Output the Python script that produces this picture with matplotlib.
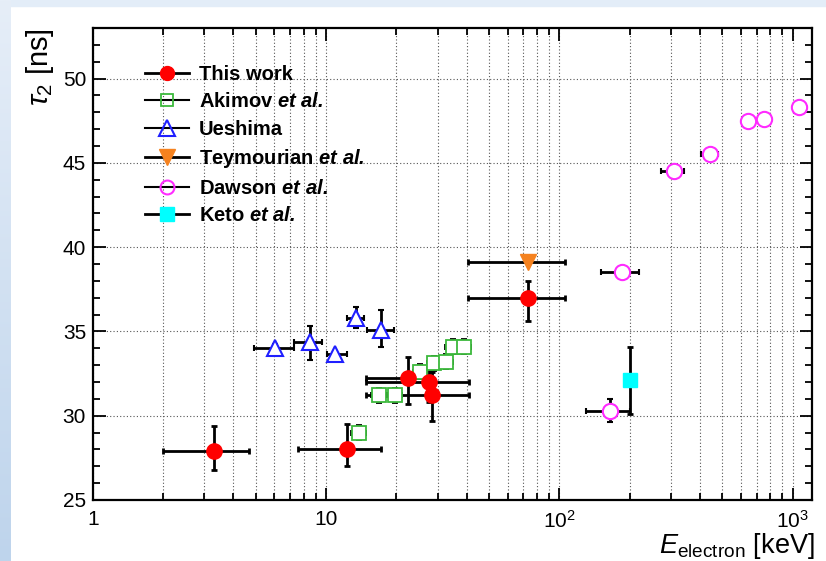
import matplotlib
matplotlib.use("Agg")
import matplotlib.pyplot as plt
import numpy as np
from matplotlib.lines import Line2D
from matplotlib.patches import Rectangle
from matplotlib.colors import LinearSegmentedColormap
from matplotlib.ticker import FixedLocator, FixedFormatter, LogLocator, MultipleLocator, NullFormatter

plt.rcParams['font.family'] = 'Liberation Sans'
plt.rcParams['mathtext.fontset'] = 'custom'
plt.rcParams['mathtext.rm'] = 'Liberation Sans'
plt.rcParams['mathtext.it'] = 'Liberation Sans:italic'
plt.rcParams['mathtext.bf'] = 'Liberation Sans:bold:italic'

# This work
this_x = [3.3, 12.3, 22.4, 27.5, 28.3, 73]
this_y = [27.9, 28.0, 32.25, 32.0, 31.2, 37.0]
this_xlo = [2.0, 7.6, 14.8, 14.8, 14.8, 40.4]
this_xhi = [4.65, 17.1, 27.0, 41.0, 41.0, 106]
this_ylo = [26.8, 27.0, 30.7, 30.8, 29.7, 35.6]
this_yhi = [29.4, 29.5, 33.5, 33.2, 32.6, 38.0]

# Akimov et al.
ak_x = [13.8, 16.8, 19.7, 25.3, 29.0, 32.6, 34.8, 39.0]
ak_y = [29.0, 31.2, 31.2, 32.6, 33.1, 33.2, 34.1, 34.1]
ak_xerr = [1.0, 1.2, 1.4, 1.8, 2.0, 2.3, 2.4, 2.7]
ak_yerr = [0.45, 0.45, 0.45, 0.45, 0.45, 0.45, 0.45, 0.45]

# Ueshima
ue_x = [6.05, 8.5, 10.9, 13.4, 17.1]
ue_y = [34.0, 34.35, 33.65, 35.8, 35.1]
ue_xlo = [4.9, 7.3, 10.1, 12.3, 15.0]
ue_xhi = [7.3, 9.6, 12.3, 14.5, 19.5]
ue_ylo = [33.7, 33.3, 33.45, 35.2, 34.1]
ue_yhi = [34.25, 35.35, 33.85, 36.45, 36.25]

# Teymourian et al.
te_x = [73]
te_y = [39.1]
te_xlo = [40.4]
te_xhi = [106]

# Dawson et al.
da_x = [165, 185, 310, 441, 645, 752, 1067]
da_y = [30.3, 38.5, 44.5, 45.5, 47.5, 47.6, 48.3]
da_xlo = [130, 151, 273, 406, 645, 752, 1067]
da_xhi = [200, 220, 343, 479, 645, 752, 1067]
da_yerr = [0.7, 0.0, 0.0, 0.0, 0.0, 0.0, 0.3]

# Keto et al.
ke_x = [200]
ke_y = [32.1]
ke_yerr = [2.0]

xtick_vals = [1, 10, 100, 1000]
xtick_labels = ['1', '10', '$10^{2}$', '$10^{3}$']

labels = ['This work', r'Akimov $\mathbf{et\ al.}$', 'Ueshima',
          r'Teymourian $\mathbf{et\ al.}$', r'Dawson $\mathbf{et\ al.}$', r'Keto $\mathbf{et\ al.}$']

green = '#3cb93c'
blue = '#1f1fff'
orange = '#f5821f'
magenta = '#ff2bff'
cyan = '#00ffff'

fig = plt.figure(figsize=(8.26, 5.61), dpi=100)

# light blue slide border
bg = fig.add_axes([0, 0, 11 / 826, 1])
grad = np.linspace(0, 1, 256).reshape(-1, 1)
bg.imshow(grad, aspect='auto', cmap=LinearSegmentedColormap.from_list('b', ['#e6eef8', '#bed4ec']))
bg.axis('off')
fig.add_artist(Rectangle((0, 1 - 6 / 561), 1, 6 / 561, transform=fig.transFigure,
                         color='#e3edf8', zorder=0))

ax = fig.add_axes([93 / 826, 61 / 561, 719 / 826, 472 / 561])

x = np.array(this_x)
y = np.array(this_y)
ax.errorbar(x, y, xerr=[x - np.array(this_xlo), np.array(this_xhi) - x],
            yerr=[y - np.array(this_ylo), np.array(this_yhi) - y],
            fmt='none', ecolor='black', elinewidth=2, capsize=2.5, capthick=2, zorder=3)

ax.errorbar(ak_x, ak_y, xerr=ak_xerr, yerr=ak_yerr, fmt='s', ms=10, mfc='white', mec=green, mew=1.3,
            ecolor='black', elinewidth=1.5, capsize=2, capthick=1.5, zorder=4)

x = np.array(ue_x)
y = np.array(ue_y)
ax.errorbar(x, y, xerr=[x - np.array(ue_xlo), np.array(ue_xhi) - x],
            yerr=[y - np.array(ue_ylo), np.array(ue_yhi) - y],
            fmt='^', ms=11, mfc='white', mec=blue, mew=1.5,
            ecolor='black', elinewidth=2, capsize=2.5, capthick=2, zorder=4)

x = np.array(te_x)
ax.errorbar(x, te_y, xerr=[x - np.array(te_xlo), np.array(te_xhi) - x],
            fmt='v', ms=11, color=orange, ecolor='black', elinewidth=2, capsize=2.5, capthick=2, zorder=4)

x = np.array(da_x)
ax.errorbar(x, da_y, xerr=[x - np.array(da_xlo), np.array(da_xhi) - x], yerr=da_yerr,
            fmt='o', ms=11, mfc='white', mec=magenta, mew=1.5,
            ecolor='black', elinewidth=2, capsize=2.5, capthick=2, zorder=4)

ax.errorbar(ke_x, ke_y, yerr=ke_yerr, fmt='s', ms=10, color=cyan,
            ecolor='black', elinewidth=2, capsize=2.5, capthick=2, zorder=4)

ax.plot(this_x, this_y, 'o', color='red', ms=11, zorder=6)

ax.set_xscale('log')
ax.set_xlim(1, 1210)
ax.set_ylim(25, 53)
ax.xaxis.set_major_locator(FixedLocator(xtick_vals))
ax.xaxis.set_major_formatter(FixedFormatter(xtick_labels))
ax.xaxis.set_minor_locator(LogLocator(base=10, subs=range(2, 10), numticks=20))
ax.xaxis.set_minor_formatter(NullFormatter())
ax.yaxis.set_major_locator(MultipleLocator(5))
ax.yaxis.set_minor_locator(MultipleLocator(1))
ax.tick_params(which='both', direction='in', top=True, right=True, width=1.3)
ax.tick_params(which='major', length=9, labelsize=15)
ax.tick_params(which='minor', length=5)
ax.tick_params(axis='x', pad=7)
ax.tick_params(axis='y', pad=5)
for s in ax.spines.values():
    s.set_linewidth(1.6)

gstyle = dict(ls=(0, (1, 2)), color='#555555', lw=0.8)
ax.grid(True, which='major', axis='y', **gstyle)
ax.grid(True, which='both', axis='x', **gstyle)
ax.set_axisbelow(True)

ax.set_ylabel(r'$\tau_{2}$ [ns]', fontsize=21, loc='top')
ax.yaxis.set_label_coords(-0.052, 1.0)
ax.set_xlabel(r'$E_{\mathrm{electron}}$ [keV]', fontsize=19.5, loc='right')
ax.xaxis.set_label_coords(1.004, -0.066)

handles = [
    Line2D([0], [0], color='black', lw=2, marker='o', ms=10, mfc='red', mec='red'),
    Line2D([0], [0], color='black', lw=1.5, marker='s', ms=9, mfc='none', mec=green, mew=1.3),
    Line2D([0], [0], color='black', lw=1.5, marker='^', ms=11, mfc='none', mec=blue, mew=1.5),
    Line2D([0], [0], color='black', lw=2, marker='v', ms=11, mfc=orange, mec=orange),
    Line2D([0], [0], color='black', lw=1.5, marker='o', ms=10, mfc='none', mec=magenta, mew=1.5),
    Line2D([0], [0], color='black', lw=2, marker='s', ms=10, mfc=cyan, mec=cyan),
]
ax.legend(handles, labels, loc='upper left', bbox_to_anchor=(0.072, 0.922), frameon=False,
          prop={'weight': 'bold', 'size': 14.5}, handlelength=2.2, handletextpad=0.5,
          labelspacing=0.42, borderpad=0, borderaxespad=0)

fig.savefig('out.png', dpi=100)
